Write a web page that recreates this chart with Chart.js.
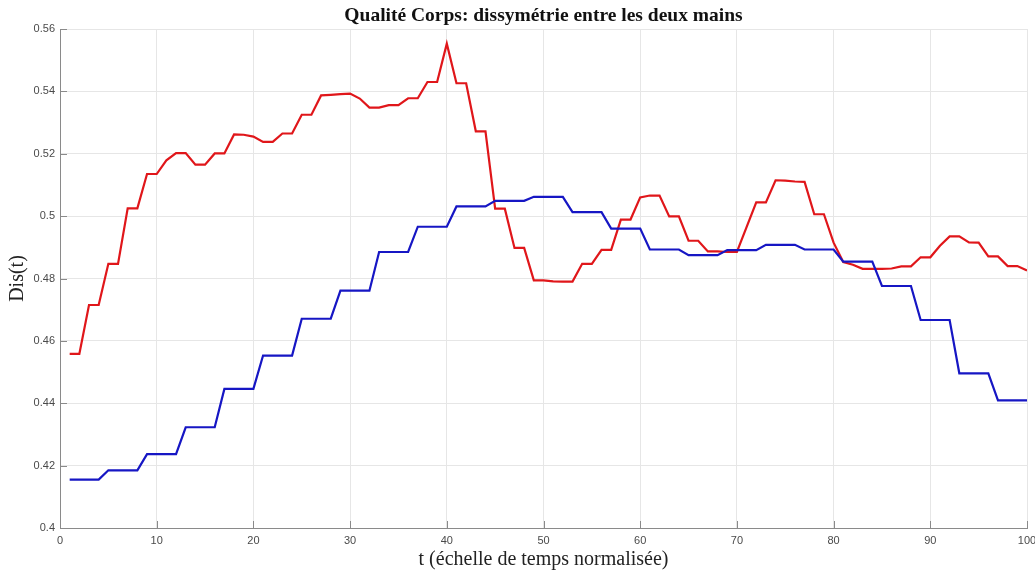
<!DOCTYPE html>
<html>
<head>
<meta charset="utf-8">
<script src="https://cdn.jsdelivr.net/npm/chart.js@4/dist/chart.umd.min.js"></script>
<style>
html,body{margin:0;padding:0;background:#fff;}
#wrap{width:1035px;height:572px;position:relative;}
</style>
</head>
<body>
<div id="wrap"><canvas id="c" width="1035" height="572"></canvas></div>
<script>
const chartTitle = "Qualité Corps: dissymétrie entre les deux mains";
const xTitle = "t (échelle de temps normalisée)";
const yTitle = "Dis(t)";

const t = [1,2,3,4,5,6,7,8,9,10,11,12,13,14,15,16,17,18,19,20,
21,22,23,24,25,26,27,28,29,30,31,32,33,34,35,36,37,38,39,40,
41,42,43,44,45,46,47,48,49,50,51,52,53,54,55,56,57,58,59,60,
61,62,63,64,65,66,67,68,69,70,71,72,73,74,75,76,77,78,79,80,
81,82,83,84,85,86,87,88,89,90,91,92,93,94,95,96,97,98,99,100];

const redSeries = [
0.4558,0.4558,0.4715,0.4715,0.4847,0.4847,0.5025,0.5025,0.5135,0.5135,
0.5179,0.5202,0.5202,0.5165,0.5165,0.5201,0.5201,0.5262,0.5261,0.5255,
0.5238,0.5238,0.5265,0.5265,0.5325,0.5325,0.5387,0.5389,0.5391,0.5393,
0.5377,0.5348,0.5348,0.5356,0.5356,0.5378,0.5378,0.5430,0.5430,0.5553,
0.5426,0.5426,0.5272,0.5272,0.5024,0.5024,0.4898,0.4898,0.4794,0.4794,
0.4791,0.4790,0.4790,0.4847,0.4847,0.4892,0.4892,0.4989,0.4989,0.5060,
0.5066,0.5066,0.4999,0.4999,0.4921,0.4921,0.4887,0.4887,0.4885,0.4885,
0.4965,0.5044,0.5044,0.5115,0.5114,0.5111,0.5110,0.5006,0.5006,0.4915,
0.4853,0.4844,0.4831,0.4831,0.4831,0.4832,0.4839,0.4839,0.4868,0.4868,
0.4905,0.4935,0.4935,0.4916,0.4915,0.4871,0.4871,0.4840,0.4840,0.4826];

const blueSeries = [
0.4155,0.4155,0.4155,0.4155,0.4185,0.4185,0.4185,0.4185,0.4237,0.4237,
0.4237,0.4237,0.4323,0.4323,0.4323,0.4323,0.4446,0.4446,0.4446,0.4446,
0.4553,0.4553,0.4553,0.4553,0.4671,0.4671,0.4671,0.4671,0.4761,0.4761,
0.4761,0.4761,0.4885,0.4885,0.4885,0.4885,0.4966,0.4966,0.4966,0.4966,
0.5031,0.5031,0.5031,0.5031,0.5049,0.5049,0.5049,0.5049,0.5062,0.5062,
0.5062,0.5062,0.5013,0.5013,0.5013,0.5013,0.4960,0.4960,0.4960,0.4960,
0.4893,0.4893,0.4893,0.4893,0.4875,0.4875,0.4875,0.4875,0.4891,0.4891,
0.4891,0.4891,0.4908,0.4908,0.4908,0.4908,0.4893,0.4893,0.4893,0.4893,
0.4854,0.4854,0.4854,0.4854,0.4776,0.4776,0.4776,0.4776,0.4667,0.4667,
0.4667,0.4667,0.4496,0.4496,0.4496,0.4496,0.4409,0.4409,0.4409,0.4409];

const xTicks = [0,10,20,30,40,50,60,70,80,90,100];
const yTicks = [0.4,0.42,0.44,0.46,0.48,0.5,0.52,0.54,0.56];
const yTickLabels = ["0.4","0.42","0.44","0.46","0.48","0.5","0.52","0.54","0.56"];

const axisColor = '#8a8a8a';
const gridColor = '#e6e6e6';
const tickColor = '#4a4a4a';

const toPts = (ys) => t.map((x, i) => ({x: x, y: ys[i]}));

const innerTicks = {
  id: 'innerTicks',
  beforeDatasetsDraw(chart) {
    const ctx = chart.ctx;
    const xs = chart.scales.x, ys = chart.scales.y;
    const a = chart.chartArea;
    ctx.save();
    ctx.strokeStyle = axisColor;
    ctx.lineWidth = 1;
    ctx.beginPath();
    xTicks.forEach(v => {
      const px = Math.round(xs.getPixelForValue(v)) + 0.5;
      ctx.moveTo(px, a.bottom);
      ctx.lineTo(px, a.bottom - 7);
    });
    yTicks.forEach(v => {
      const py = Math.round(ys.getPixelForValue(v)) + 0.5;
      ctx.moveTo(a.left, py);
      ctx.lineTo(a.left + 7, py);
    });
    ctx.stroke();
    ctx.restore();
  }
};

const titlePlugin = {
  id: 'centerTitle',
  afterDraw(chart) {
    const ctx = chart.ctx;
    const a = chart.chartArea;
    ctx.save();
    ctx.font = 'bold 19.5px "Liberation Serif", "DejaVu Serif", serif';
    ctx.fillStyle = '#111';
    ctx.textAlign = 'center';
    ctx.textBaseline = 'middle';
    ctx.fillText(chartTitle, (a.left + a.right) / 2, 16);
    ctx.restore();
  }
};

new Chart(document.getElementById('c'), {
  type: 'line',
  data: {
    datasets: [
      {
        label: 'Blue',
        data: toPts(blueSeries),
        borderColor: '#1616c4',
        borderWidth: 2.2,
        pointRadius: 0,
        tension: 0,
        fill: false
      },
      {
        label: 'Red',
        data: toPts(redSeries),
        borderColor: '#e0161a',
        borderWidth: 2.2,
        pointRadius: 0,
        tension: 0,
        fill: false
      }
    ]
  },
  options: {
    responsive: false,
    animation: false,
    layout: { padding: { top: 29, right: 8, left: 0, bottom: 0 } },
    plugins: {
      legend: { display: false },
      title: { display: false },
      tooltip: { enabled: false }
    },
    scales: {
      x: {
        type: 'linear',
        min: 0, max: 100,
        afterBuildTicks(scale) { scale.ticks = xTicks.map(v => ({value: v})); },
        afterFit(scale) { scale.height = 44; scale.paddingRight = 0; scale.paddingLeft = 0; },
        ticks: {
          color: tickColor,
          font: { family: '"Liberation Sans", Arial, sans-serif', size: 11 },
          padding: 6,
          maxRotation: 0,
          callback: (v) => String(v)
        },
        grid: { color: gridColor, drawTicks: false },
        border: { color: axisColor, width: 1 },
        title: {
          display: true,
          text: xTitle,
          color: '#222',
          font: { family: '"Liberation Serif", "DejaVu Serif", serif', size: 20 },
          padding: { top: 0, bottom: 0 }
        }
      },
      y: {
        type: 'linear',
        min: 0.4, max: 0.56,
        afterBuildTicks(scale) { scale.ticks = yTicks.map(v => ({value: v})); },
        afterFit(scale) { scale.width = 60; },
        ticks: {
          color: tickColor,
          font: { family: '"Liberation Sans", Arial, sans-serif', size: 11 },
          padding: 5,
          callback: (v) => { const i = yTicks.findIndex(k => Math.abs(k - v) < 1e-9); return i >= 0 ? yTickLabels[i] : ''; }
        },
        grid: { color: gridColor, drawTicks: false },
        border: { color: axisColor, width: 1 },
        title: {
          display: true,
          text: yTitle,
          color: '#222',
          font: { family: '"Liberation Serif", "DejaVu Serif", serif', size: 20 },
          padding: { top: 6, bottom: 0 }
        }
      }
    }
  },
  plugins: [innerTicks, titlePlugin]
});
</script>
</body>
</html>
